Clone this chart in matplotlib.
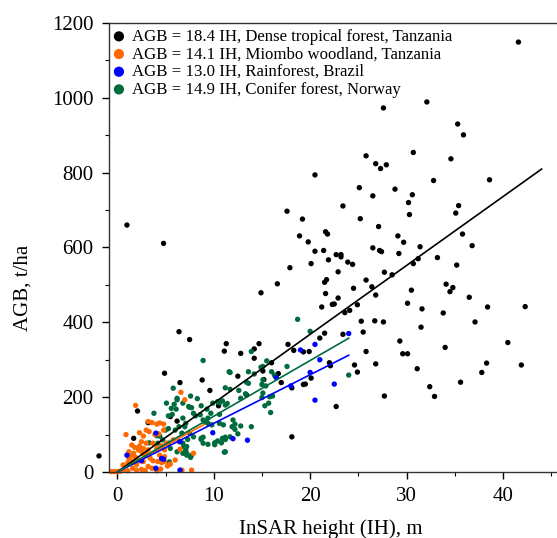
import matplotlib
matplotlib.use("Agg")
import matplotlib.pyplot as plt
from matplotlib.ticker import MultipleLocator
import numpy as np

plt.rcParams['font.family'] = ['Liberation Serif', 'DejaVu Serif']

# ---------------- data ----------------
series_names = ["Dense tropical forest, Tanzania", "Miombo woodland, Tanzania",
                "Rainforest, Brazil", "Conifer forest, Norway"]
slopes = [18.4, 14.1, 13.0, 14.9]
line_ends = [44.0, 9.0, 24.0, 24.0]
colors = ["#000000", "#FF6A00", "#0000FF", "#006B3C"]

black_pts = [
(-1.9,43),(1.0,660),(1.7,90),(2.1,163),(3.2,132),(4.8,611),(4.9,264),(5.5,148),(6.2,136),(6.4,375),
(6.5,239),(7.5,354),(8.8,246),(9.6,218),(10.5,177),(11.1,323),(11.3,343),(12.5,256),(12.8,317),(13.4,206),
(14.2,304),(14.2,329),(14.7,343),(14.9,479),(15.1,270),(15.2,247),(16.0,292),(16.6,503),(16.7,263),(17.0,239),
(17.6,697),(17.7,341),(17.9,546),(18.1,225),(18.1,94),(18.3,325),(18.9,631),(19.2,676),(19.3,234),(19.5,235),
(19.3,321),(19.8,615),(19.9,322),(20.1,251),(20.1,557),(20.5,590),(20.5,794),(21.0,358),(21.2,441),(21.4,592),
(21.5,371),(21.5,507),(21.6,642),(21.6,477),(21.7,514),(21.8,636),(21.9,567),(22.0,292),(22.1,284),(22.3,448),
(22.5,449),(22.7,581),(22.7,175),(22.9,535),(22.9,465),(23.2,581),(23.2,575),(23.4,711),(23.4,368),(23.6,426),
(23.9,561),(24.1,432),(24.4,555),(24.5,491),(24.6,286),(24.9,447),(24.9,267),(25.1,760),(25.2,677),(25.3,403),
(25.5,374),(25.8,513),(25.8,322),(25.8,845),(26.4,495),(26.5,738),(26.5,599),(26.7,404),(26.8,473),(26.8,289),
(26.8,824),(27.1,656),(27.2,592),(27.3,811),(27.4,589),(27.6,973),(27.6,401),(27.7,534),(27.7,203),(27.9,821),
(28.5,527),(28.8,756),(29.1,631),(29.2,584),(29.3,350),(29.6,316),(29.7,614),(30.1,316),(30.1,451),(30.2,720),
(30.3,688),(30.5,486),(30.6,741),(30.7,557),(30.7,854),(31.1,276),(31.2,570),(31.4,602),(31.5,387),(31.6,436),
(32.1,989),(32.4,228),(32.8,779),(32.9,202),(33.2,573),(33.8,425),(34.0,333),(34.1,502),(34.5,482),(34.6,837),
(34.8,493),(35.1,692),(35.2,553),(35.3,930),(35.4,712),(35.6,240),(35.8,636),(35.9,901),(36.5,467),(36.8,605),
(37.1,401),(37.8,266),(38.3,291),(38.4,441),(38.6,781),(40.5,346),(41.6,1149),(41.9,286),(42.3,442),
]

orange_pts = [
(-0.6,1),(-0.3,1),(0.0,1),(0.3,2),(0.6,5),(1.1,3),(1.6,10),(2.0,5),(2.5,7),(2.9,4),(3.2,15),(3.6,10),
(4.1,3),(4.5,8),(5.5,21),(6.0,32),(6.7,5),(7.7,5),(0.6,19),(1.1,25),(1.6,28),(2.0,20),(2.3,30),(2.7,28),
(1.9,39),(1.4,42),(1.2,37),(2.5,55),(3.4,37),(3.7,30),(4.2,28),(4.6,25),(4.9,28),(5.2,16),(2.3,69),(1.5,72),
(1.8,66),(1.2,54),(1.7,50),(2.2,59),(2.5,81),(3.0,77),(2.7,63),(3.2,59),(3.7,77),(4.1,63),(4.6,70),(4.9,59),
(5.1,77),(4.4,45),(4.9,41),(5.8,86),(6.4,81),(6.5,61),(0.9,100),(2.7,96),(2.3,105),(3.0,112),(3.3,108),
(3.9,100),(4.3,102),(4.8,112),(3.2,135),(3.6,132),(4.1,128),(4.4,131),(4.8,128),(1.9,178),(6.6,213),
(7.0,193),(7.9,50),(3.0,48),(2.7,48),
]

blue_pts = [
(1.0,45),(2.5,30),(4.0,104),(4.0,10),(4.6,36),(4.8,34),(6.5,5),(6.5,81),(9.9,105),(12.0,89),
(13.5,85),(16.5,252),(18.0,230),(19.0,326),(20.0,266),(20.5,341),(20.5,192),(21.0,300),(22.5,235),(24.0,370),
]

green_pts = [
(3.3,78),(3.8,157),(4.1,97),(4.4,96),(5.0,112),(5.3,116),(5.3,150),(5.4,27),(5.7,154),(5.8,224),
(5.9,181),(6.1,168),(6.2,197),(6.4,121),(7.1,59),(7.2,45),(7.6,39),(7.6,203),(7.7,172),(8.3,196),
(8.7,87),(8.9,93),(8.9,298),(9.1,134),(9.4,130),(9.7,157),(9.8,126),(10.1,73),(10.4,83),(10.4,188),
(10.6,154),(10.9,90),(10.9,190),(11.1,53),(11.2,93),(11.2,225),(11.4,183),(11.6,268),(11.7,221),(11.7,266),
(12.0,139),(12.2,128),(12.6,218),(12.8,197),(13.3,209),(13.4,240),(13.6,268),(13.6,237),(13.9,121),(13.9,322),
(14.2,262),(14.9,280),(15.0,234),(15.0,199),(15.1,211),(15.1,282),(15.1,246),(15.3,177),(15.4,230),(15.5,297),
(15.7,184),(15.8,201),(15.9,159),(16.0,268),(16.1,203),(16.3,259),(16.4,255),(17.6,282),(18.7,408),(20.0,376),
(24.0,259),(7.5,173),(7.9,157),(8.1,150),(6.8,144),(7.1,130),(8.7,177),(9.3,168),(9.9,184),(10.6,185),
(11.2,179),(8.6,153),(8.9,139),(9.4,144),(10.6,130),(11.0,126),(11.9,121),(12.2,114),(12.8,123),(7.5,104),
(7.9,94),(7.3,87),(8.7,90),(8.9,77),(9.4,74),(10.1,78),(10.8,78),(11.2,87),(11.7,94),(12.5,102),
(11.2,54),(6.8,77),(6.9,68),(7.2,50),(7.7,45),(4.2,77),(4.7,86),(5.3,77),(5.5,63),(6.2,54),
(6.8,50),(7.2,68),(5.1,184),(5.6,170),(6.2,193),(6.8,184),(7.4,175),(6.0,112),(6.7,104),(7.0,121),
]

# ---------------- figure ----------------
fig = plt.figure(figsize=(5.57, 5.38), dpi=100)
ax = fig.add_axes([109/557, 66/538, 448/557, 449/538])

all_pts = [black_pts, orange_pts, blue_pts, green_pts]
draw_order = [0, 3, 1, 2]
for i in draw_order:
    arr = np.array(all_pts[i])
    ax.scatter(arr[:, 0], arr[:, 1], s=15, color=colors[i], edgecolors='none',
               zorder=2, clip_on=False)

handles = []
for i in range(4):
    xs = np.array([0.0, line_ends[i]])
    ax.plot(xs, slopes[i] * xs, color=colors[i], lw=1.2, zorder=3)
    h = ax.scatter([], [], s=15, color=colors[i], edgecolors='none',
                   label=f"AGB = {slopes[i]:.1f} IH, {series_names[i]}")
    handles.append(h)

leg = ax.legend(handles=handles, loc='upper left', bbox_to_anchor=(-0.006, 1.004),
                frameon=False, fontsize=12.1, markerscale=1.9, handlelength=0.6,
                handletextpad=0.45, labelspacing=0.1, borderaxespad=0.25,
                borderpad=0.2)

ax.set_xlim(-0.86, 45.6)
ax.set_ylim(0, 1200)
ax.xaxis.set_major_locator(MultipleLocator(10))
ax.xaxis.set_minor_locator(MultipleLocator(5))
ax.yaxis.set_major_locator(MultipleLocator(200))
ax.yaxis.set_minor_locator(MultipleLocator(100))
ax.tick_params(which='major', direction='out', length=5, width=1, labelsize=15, pad=6)
ax.tick_params(which='minor', direction='out', length=3, width=0.8)
ax.spines['right'].set_visible(False)
for s in ['left', 'bottom', 'top']:
    ax.spines[s].set_linewidth(1.0)
    ax.spines[s].set_color('#333333')

ax.set_xlabel("InSAR height (IH), m", fontsize=15)
ax.set_ylabel("AGB, t/ha", fontsize=15)
ax.xaxis.set_label_coords(0.495, -0.105)
ax.yaxis.set_label_coords(-0.17, 0.41)

fig.savefig("out.png", dpi=100)
